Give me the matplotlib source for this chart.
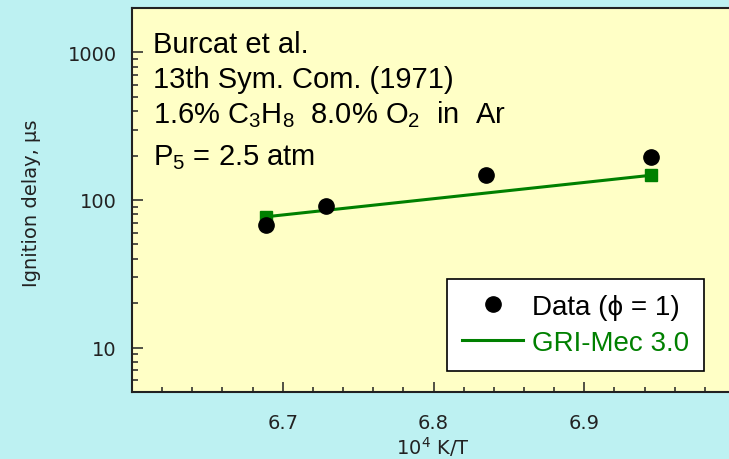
import matplotlib
matplotlib.use("Agg")
import matplotlib.pyplot as plt
from matplotlib.ticker import MultipleLocator, LogLocator, NullFormatter, FixedLocator

# -------------------------
# Datos
# -------------------------
x_data = [6.689, 6.729, 6.835, 6.944]      # 10^4 K/T
tau_data = [68, 91, 147, 196]              # ignition delay, us

x_model = [6.689, 6.944]
tau_model = [77, 147]

y_ticks = [10, 100, 1000]
y_tick_labels = ["10", "100", "1000"]
x_ticks = [6.7, 6.8, 6.9]
x_tick_labels = ["6.7", "6.8", "6.9"]

anno_lines = [
    "Burcat et al.",
    "13th Sym. Com. (1971)",
    r"1.6% C$_3$H$_8$  8.0% O$_2$  in  Ar",
    r"P$_5$ = 2.5 atm",
]

# -------------------------
# Estilo
# -------------------------
bg = "#BDF1F2"
face = "#FFFFC6"
green = "#008000"
W, H = 729, 460

plt.rcParams["mathtext.fontset"] = "custom"
plt.rcParams["mathtext.rm"] = "Liberation Sans"
plt.rcParams["mathtext.it"] = "Liberation Sans"

fig = plt.figure(figsize=(W / 100, H / 100), dpi=100, facecolor=bg)
ax = fig.add_axes([132 / W, (H - 393) / H, (W - 132) / W, (393 - 9) / H])
ax.set_facecolor(face)

ax.plot(x_model, tau_model, color=green, lw=2.2, marker="s", ms=8,
        mec=green, mfc=green, label="GRI-Mec 3.0", zorder=3)
ax.plot(x_data, tau_data, "o", color="black", ms=11, label="Data (ϕ = 1)",
        zorder=4)

ax.set_yscale("log")
ax.set_ylim(5, 2000)
ax.set_xlim(6.6, 6.996)

ax.yaxis.set_major_locator(FixedLocator(y_ticks))
ax.set_yticklabels(y_tick_labels)
ax.yaxis.set_minor_locator(LogLocator(base=10, subs=range(2, 10)))
ax.yaxis.set_minor_formatter(NullFormatter())
ax.xaxis.set_major_locator(FixedLocator(x_ticks))
ax.set_xticklabels(x_tick_labels)
ax.xaxis.set_minor_locator(MultipleLocator(0.02))

ax.tick_params(axis="y", which="major", direction="in", length=8, width=1.1,
               pad=11, labelsize=14, labelcolor="#222222", color="#222222")
ax.tick_params(axis="y", which="minor", direction="in", length=4.5, width=1.1,
               color="#222222")
ax.tick_params(axis="x", which="major", direction="in", length=7, width=1.1,
               pad=15, labelsize=14, labelcolor="#222222", color="#222222")
ax.tick_params(axis="x", which="minor", direction="in", length=3.8, width=1.1,
               color="#222222")

for s in ["left", "top", "bottom"]:
    ax.spines[s].set_color("#222222")
    ax.spines[s].set_linewidth(1.5)
ax.spines["right"].set_visible(False)

# Etiquetas de ejes
fig.text(32 / W, (H - 203) / H, "Ignition delay, μs", rotation=90,
         ha="center", va="center", fontsize=14, color="#222222")
fig.text(433 / W, (H - 455) / H, r"10$^4$ K/T", ha="center", va="baseline",
         fontsize=14, color="#222222", math_fontfamily="dejavusans")

# Texto de anotacion
baselines = [53, 88, 123, 165]
for txt, yb in zip(anno_lines, baselines):
    fig.text(153 / W, (H - yb) / H, txt, ha="left", va="baseline",
             fontsize=21, family="Liberation Sans", color="black")

# Leyenda
h, l = ax.get_legend_handles_labels()
leg = ax.legend(h[::-1], l[::-1], loc="lower right",
                bbox_to_anchor=(704 / W, (H - 372) / H),
                bbox_transform=fig.transFigure, borderaxespad=0,
                frameon=True, fancybox=False, edgecolor="black",
                facecolor="white", framealpha=1, handlelength=2.2,
                handletextpad=0.3, borderpad=0.55, labelspacing=0.35,
                prop={"family": ["Liberation Sans", "DejaVu Sans"], "size": 20})
leg.get_frame().set_linewidth(1.2)
leg.get_texts()[0].set_color("black")
leg.get_texts()[1].set_color(green)
leg.legend_handles[1].set_marker("")

plt.savefig("out.png", dpi=100, facecolor=bg)
